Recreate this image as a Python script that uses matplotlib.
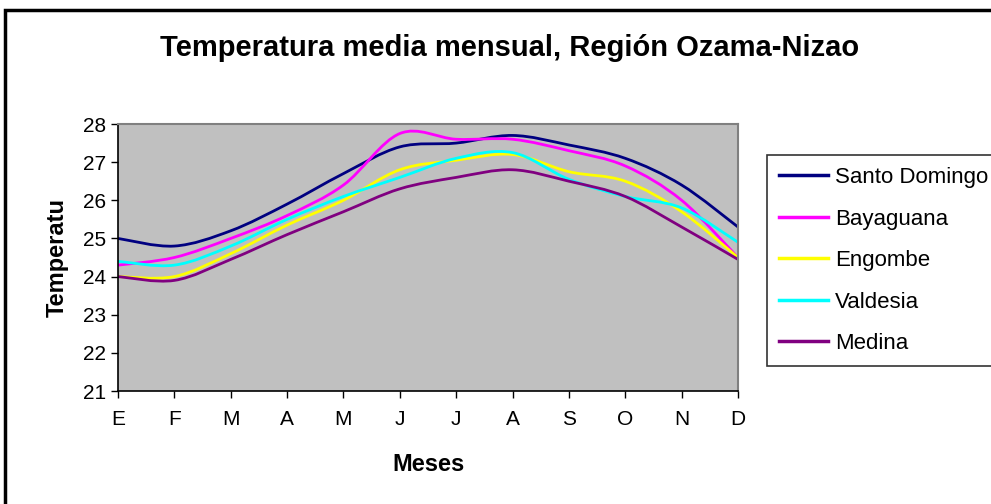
import numpy as np
import matplotlib
matplotlib.use("Agg")
import matplotlib.pyplot as plt
from matplotlib.path import Path
from matplotlib.patches import PathPatch, Rectangle
from matplotlib.lines import Line2D

plt.rcParams['font.family'] = ['Liberation Sans', 'DejaVu Sans']

meses = ['E', 'F', 'M', 'A', 'M', 'J', 'J', 'A', 'S', 'O', 'N', 'D']
santo_domingo = [25.0, 24.8, 25.2, 25.9, 26.7, 27.4, 27.5, 27.7, 27.45, 27.1, 26.4, 25.3]
bayaguana = [24.3, 24.5, 25.0, 25.6, 26.4, 27.75, 27.6, 27.6, 27.3, 26.9, 26.0, 24.5]
engombe = [24.0, 24.0, 24.6, 25.35, 26.0, 26.8, 27.05, 27.2, 26.75, 26.5, 25.7, 24.5]
valdesia = [24.4, 24.3, 24.8, 25.5, 26.1, 26.6, 27.1, 27.25, 26.55, 26.1, 25.8, 24.9]
medina = [24.0, 23.9, 24.45, 25.1, 25.7, 26.3, 26.6, 26.8, 26.5, 26.1, 25.3, 24.45]

series = [('Santo Domingo', santo_domingo, '#000080'),
          ('Bayaguana', bayaguana, '#FF00FF'),
          ('Engombe', engombe, '#FFFF00'),
          ('Valdesia', valdesia, '#00FFFF'),
          ('Medina', medina, '#800080')]


def smooth_path(xs, ys):
    # Excel-style smoothed line: cubic bezier through the points
    p = np.column_stack([xs, ys]).astype(float)
    n = len(p)
    verts = [p[0]]
    codes = [Path.MOVETO]
    for i in range(n - 1):
        p0 = p[i - 1] if i > 0 else p[i]
        p3 = p[i + 2] if i + 2 < n else p[i + 1]
        c1 = p[i] + (p[i + 1] - p0) / 6
        c2 = p[i + 1] - (p3 - p[i]) / 6
        verts += [c1, c2, p[i + 1]]
        codes += [Path.CURVE4] * 3
    return Path(verts, codes)


fig = plt.figure(figsize=(9.91, 5.04), dpi=100)
ax = fig.add_axes([118 / 991, 1 - 391 / 504, 620 / 991, 267 / 504])
ax.set_facecolor('#C0C0C0')

x = np.arange(len(meses))
handles = []
for name, vals, col in series:
    ax.add_patch(PathPatch(smooth_path(x, vals), fill=False, edgecolor=col, lw=2))
    handles.append(Line2D([], [], color=col, lw=2.5, label=name))

ax.set_xlim(0, 11)
ax.set_ylim(21, 28)
ax.set_yticks(range(21, 29))
ax.set_xticks(x)
ax.set_xticklabels(meses)
ax.tick_params(axis='both', labelsize=15, length=5, width=1, color='black')
ax.tick_params(axis='x', pad=9)
for s in ['top', 'right']:
    ax.spines[s].set_color('#808080')
    ax.spines[s].set_linewidth(1.5)
for s in ['left', 'bottom']:
    ax.spines[s].set_color('black')
    ax.spines[s].set_linewidth(1.2)

ax.set_xlabel('Meses', fontsize=17, fontweight='bold', labelpad=17)
ax.set_ylabel('Temperatu', fontsize=17, fontweight='bold', labelpad=10)
fig.text(510 / 991, 1 - 48 / 504, 'Temperatura media mensual, Región Ozama-Nizao',
         ha='center', va='center', fontsize=21, fontweight='bold')

leg = fig.legend(handles=handles, loc='upper left',
                 bbox_to_anchor=(767 / 991, 1 - 155 / 504), borderaxespad=0,
                 fontsize=16, frameon=True, fancybox=False, edgecolor='black',
                 handlelength=2.2, handletextpad=0.3, labelspacing=0.92,
                 borderpad=0.55)
leg.get_frame().set_linewidth(1.2)

# outer chart frame
fig.patches.append(Rectangle((5 / 991, -0.1), 1.2, 1 - 10 / 504 + 0.1,
                             transform=fig.transFigure, fill=False,
                             edgecolor='black', lw=2.5))

fig.savefig('out.png', dpi=100, facecolor='white')
